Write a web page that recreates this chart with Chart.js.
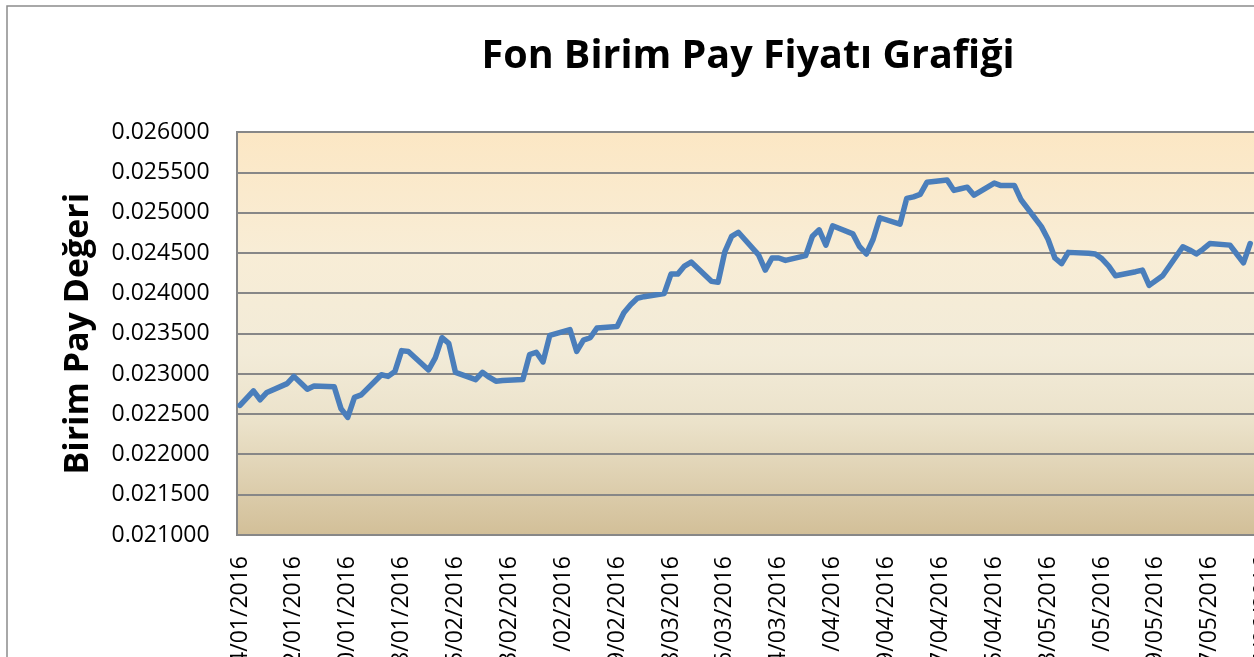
<!DOCTYPE html>
<html>
<head>
<meta charset="utf-8">
<script src="https://cdn.jsdelivr.net/npm/chart.js@4.4.1/dist/chart.umd.min.js"></script>
<style>
  html, body { margin: 0; padding: 0; background: #ffffff; overflow: hidden; width: 1254px; height: 657px; }
  #wrap { position: absolute; left: 0; top: 0; width: 1496px; height: 720px; }
  canvas { display: block; }
</style>
</head>
<body>
<div id="wrap"><canvas id="c" width="1496" height="720"></canvas></div>
<script>
const chartTitle = "Fon Birim Pay Fiyatı Grafiği";
const yAxisTitle = "Birim Pay Değeri";
const firstDay = "04/01/2016";
const lastDay = "08/07/2016";
const yMin = 0.021, yMax = 0.026, yStep = 0.0005;
const labelEvery = 8;

const tradeDates = [
  "04/01/2016","05/01/2016","06/01/2016","07/01/2016","08/01/2016",
  "11/01/2016","12/01/2016","13/01/2016","14/01/2016","15/01/2016",
  "18/01/2016","19/01/2016","20/01/2016","21/01/2016","22/01/2016",
  "25/01/2016","26/01/2016","27/01/2016","28/01/2016","29/01/2016",
  "01/02/2016","02/02/2016","03/02/2016","04/02/2016","05/02/2016",
  "08/02/2016","09/02/2016","10/02/2016","11/02/2016","12/02/2016",
  "15/02/2016","16/02/2016","17/02/2016","18/02/2016","19/02/2016",
  "22/02/2016","23/02/2016","24/02/2016","25/02/2016","26/02/2016",
  "29/02/2016","01/03/2016","02/03/2016","03/03/2016","04/03/2016",
  "07/03/2016","08/03/2016","09/03/2016","10/03/2016","11/03/2016",
  "14/03/2016","15/03/2016","16/03/2016","17/03/2016","18/03/2016",
  "21/03/2016","22/03/2016","23/03/2016","24/03/2016","25/03/2016",
  "28/03/2016","29/03/2016","30/03/2016","31/03/2016","01/04/2016",
  "04/04/2016","05/04/2016","06/04/2016","07/04/2016","08/04/2016",
  "11/04/2016","12/04/2016","13/04/2016","14/04/2016","15/04/2016",
  "18/04/2016","19/04/2016","20/04/2016","21/04/2016","22/04/2016",
  "25/04/2016","26/04/2016","27/04/2016","28/04/2016","29/04/2016",
  "02/05/2016","03/05/2016","04/05/2016","05/05/2016","06/05/2016",
  "09/05/2016","10/05/2016","11/05/2016","12/05/2016","13/05/2016",
  "16/05/2016","17/05/2016","18/05/2016","20/05/2016",
  "23/05/2016","24/05/2016","25/05/2016","26/05/2016","27/05/2016",
  "30/05/2016","31/05/2016","01/06/2016","02/06/2016"
];
const tradeValues = [
  0.02261,0.02270,0.02279,0.02268,0.02277,
  0.02288,0.02297,0.02289,0.02281,0.02285,
  0.02284,0.02257,0.02246,0.02271,0.02274,
  0.02299,0.02297,0.02303,0.02329,0.02328,
  0.02305,0.02320,0.02345,0.02338,0.02302,
  0.02293,0.02302,0.02296,0.02291,0.02292,
  0.02293,0.02324,0.02327,0.02315,0.02348,
  0.02355,0.02328,0.02342,0.02345,0.02357,
  0.02359,0.02376,0.02386,0.02394,0.02396,
  0.02400,0.02424,0.02424,0.02434,0.02439,
  0.02415,0.02414,0.02452,0.02471,0.02476,
  0.02448,0.02429,0.02444,0.02444,0.02441,
  0.02447,0.02471,0.02479,0.02460,0.02484,
  0.02474,0.02458,0.02449,0.02467,0.02494,
  0.02486,0.02518,0.02520,0.02523,0.02538,
  0.02541,0.02528,0.02530,0.02532,0.02522,
  0.02537,0.02534,0.02534,0.02534,0.02516,
  0.02483,0.02467,0.02444,0.02437,0.02451,
  0.02450,0.02449,0.02443,0.02434,0.02422,
  0.02427,0.02429,0.02410,0.02422,
  0.02458,0.02454,0.02449,0.02455,0.02462,
  0.02460,0.02449,0.02438,0.02462
];

// calendar-day categories (Excel date axis: every day gets a slot)
function parseD(s){ const [d,m,y] = s.split('/').map(Number); return new Date(Date.UTC(y, m-1, d)); }
function fmtD(dt){ const p = n => String(n).padStart(2,'0'); return p(dt.getUTCDate())+'/'+p(dt.getUTCMonth()+1)+'/'+dt.getUTCFullYear(); }
const dayLabels = [];
for (let t = parseD(firstDay); t <= parseD(lastDay); t = new Date(t.getTime()+86400000)) dayLabels.push(fmtD(t));
const seriesByDay = dayLabels.map(l => { const i = tradeDates.indexOf(l); return i >= 0 ? tradeValues[i] : null; });

const frame = {
  id: 'frame',
  beforeDraw(chart) {
    const {ctx, chartArea: a, width, height} = chart;
    ctx.save();
    ctx.fillStyle = '#ffffff';
    ctx.fillRect(0, 0, width, height);
    const g = ctx.createLinearGradient(0, a.top, 0, a.bottom);
    g.addColorStop(0, '#fce7c4');
    g.addColorStop(0.3, '#f8edd6');
    g.addColorStop(0.55, '#f2ebd8');
    g.addColorStop(0.72, '#ebe2ca');
    g.addColorStop(1, '#d2bf98');
    ctx.fillStyle = g;
    ctx.fillRect(a.left, a.top, a.right - a.left, a.bottom - a.top);
    ctx.strokeStyle = '#8c8c8c';
    ctx.lineWidth = 1.5;
    ctx.strokeRect(7, 6, width - 14, height - 12);
    ctx.restore();
  }
};

const GRID = '#878787';
const FONT = "'Open Sans'";
new Chart(document.getElementById('c'), {
  type: 'line',
  data: {
    labels: dayLabels,
    datasets: [{
      data: seriesByDay,
      borderColor: '#4a7ebb',
      borderWidth: 5.5,
      pointRadius: 0,
      spanGaps: true,
      tension: 0,
      borderJoinStyle: 'round',
      borderCapStyle: 'round'
    }]
  },
  options: {
    responsive: false,
    animation: false,
    devicePixelRatio: 1,
    layout: { padding: 0 },
    plugins: {
      legend: { display: false },
      tooltip: { enabled: false },
      title: {
        display: true,
        text: chartTitle,
        color: '#000000',
        font: { family: FONT, size: 39.5, weight: 'bold' },
        padding: { top: 33, bottom: 52 }
      }
    },
    scales: {
      x: {
        type: 'category',
        offset: true,
        grid: { display: false, drawTicks: false },
        border: { display: true, color: GRID, width: 2 },
        ticks: {
          autoSkip: false,
          minRotation: 90,
          maxRotation: 90,
          padding: 21,
          color: '#000000',
          font: { family: FONT, size: 23 },
          callback: function(v, i) { return i % labelEvery === 0 ? this.getLabelForValue(v) : ''; }
        },
        afterFit(s) { s.height = 720 - 535; s.paddingLeft = 0; s.paddingRight = 0; }
      },
      y: {
        min: yMin,
        max: yMax,
        grid: { color: GRID, lineWidth: 2, drawTicks: false },
        border: { display: true, color: GRID, width: 2 },
        ticks: {
          stepSize: yStep,
          padding: 27,
          color: '#000000',
          font: { family: FONT, size: 23 },
          callback: v => Number(v).toFixed(6)
        },
        title: {
          display: true,
          text: yAxisTitle,
          color: '#000000',
          font: { family: FONT, size: 34, weight: 'bold' },
          padding: { top: 58, bottom: 0 }
        },
        afterFit(s) { s.width = 236.6; }
      }
    }
  },
  plugins: [frame]
});
</script>
</body>
</html>
